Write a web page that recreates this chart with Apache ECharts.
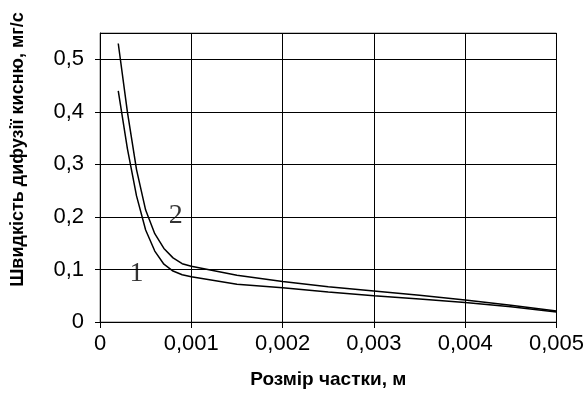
<!DOCTYPE html>
<html>
<head>
<meta charset="utf-8">
<script src="https://cdn.jsdelivr.net/npm/echarts@6/dist/echarts.min.js"></script>
<style>
    html, body {margin: 0; padding: 0; background: #fff;}
    #chart {width: 587px; height: 403px;}
</style>
</head>
<body>
<div id="chart"></div>
<script>
// розмір частки, м
var sizes = [0.0002, 0.0003, 0.0004, 0.0005, 0.0006, 0.0007, 0.0008, 0.0009, 0.001,
    0.0015, 0.002, 0.0025, 0.003, 0.0035, 0.004, 0.0045, 0.005];
// крива 1
var curve1 = [0.44, 0.33, 0.24, 0.175, 0.135, 0.11, 0.097, 0.09, 0.086,
    0.072, 0.065, 0.057, 0.050, 0.044, 0.037, 0.029, 0.019];
// крива 2
var curve2 = [0.53, 0.40, 0.29, 0.213, 0.168, 0.14, 0.122, 0.111, 0.106,
    0.089, 0.077, 0.067, 0.059, 0.051, 0.042, 0.032, 0.021];
var curveNames = ['1', '2'];
var xTicks = [0, 0.001, 0.002, 0.003, 0.004, 0.005];
var yTicks = [0, 0.1, 0.2, 0.3, 0.4, 0.5];

/**
 * точки для підписів кривих (в координатах даних)
 */
var labelCoords = [[0.0004, 0.092], [0.00083, 0.203]];

function pairs(ys) {
    return sizes.map(function (x, i) {
        return [x, ys[i]];
    });
}

function comma(v, digits) {
    if (v === 0) return '0';
    return v.toFixed(digits).replace('.', ',');
}

var myChart = echarts.init(document.getElementById('chart'), null, {renderer: 'canvas'});
var lineSeries = [curve1, curve2].map(function (ys) {
    return {
        type: 'line',
        data: pairs(ys),
        showSymbol: false,
        smooth: false,
        silent: true,
        lineStyle: {color: '#000', width: 1.5},
        z: 3
    };
});
var labelSeries = {
    type: 'scatter',
    symbolSize: 0,
    silent: true,
    data: labelCoords.map(function (c, i) {
        return {value: c, name: curveNames[i]};
    }),
    label: {
        show: true,
        position: 'inside',
        formatter: '{b}',
        fontFamily: 'Liberation Serif',
        fontSize: 28,
        color: '#000'
    },
    z: 4
};

var option = {
    animation: false,
    grid: {
        left: 100,
        right: 30,
        top: 33,
        bottom: 81,
        show: true,
        borderColor: '#808080',
        borderWidth: 1
    },
    xAxis: {
        type: 'value',
        min: xTicks[0],
        max: xTicks[xTicks.length - 1],
        interval: 0.001,
        name: 'Розмір частки, м',
        nameLocation: 'middle',
        nameGap: 48,
        nameTextStyle: {fontFamily: 'Liberation Sans', fontWeight: 'bold', fontSize: 19, color: '#000'},
        axisLine: {lineStyle: {color: '#000', width: 1}},
        axisTick: {show: true, length: 6, lineStyle: {color: '#000'}},
        axisLabel: {
            margin: 11,
            fontFamily: 'Liberation Sans',
            fontSize: 22,
            color: '#000',
            formatter: function (v) { return comma(v, 3); }
        },
        splitLine: {show: true, lineStyle: {color: '#000', width: 1}}
    },
    yAxis: {
        type: 'value',
        min: yTicks[0],
        max: 0.55,
        interval: 0.1,
        name: 'Швидкість дифузії кисню, мг/с',
        nameLocation: 'middle',
        nameGap: 73,
        nameTextStyle: {
            fontFamily: 'Liberation Sans', fontWeight: 'bold', fontSize: 18, color: '#000',
            padding: [0, 0, 0, 56]
        },
        axisLine: {show: true, lineStyle: {color: '#000', width: 1}},
        axisTick: {show: true, length: 5, lineStyle: {color: '#000'}},
        axisLabel: {
            margin: 16,
            showMaxLabel: false,
            fontFamily: 'Liberation Sans',
            fontSize: 22,
            color: '#000',
            formatter: function (v) {
                return yTicks.indexOf(+v.toFixed(2)) >= 0 ? comma(v, 1) : '';
            }
        },
        splitLine: {show: true, lineStyle: {color: '#000', width: 1}}
    },
    series: lineSeries.concat([labelSeries])
};
if (option && typeof option === "object") {
    myChart.setOption(option, true);
}
</script>
</body>
</html>
